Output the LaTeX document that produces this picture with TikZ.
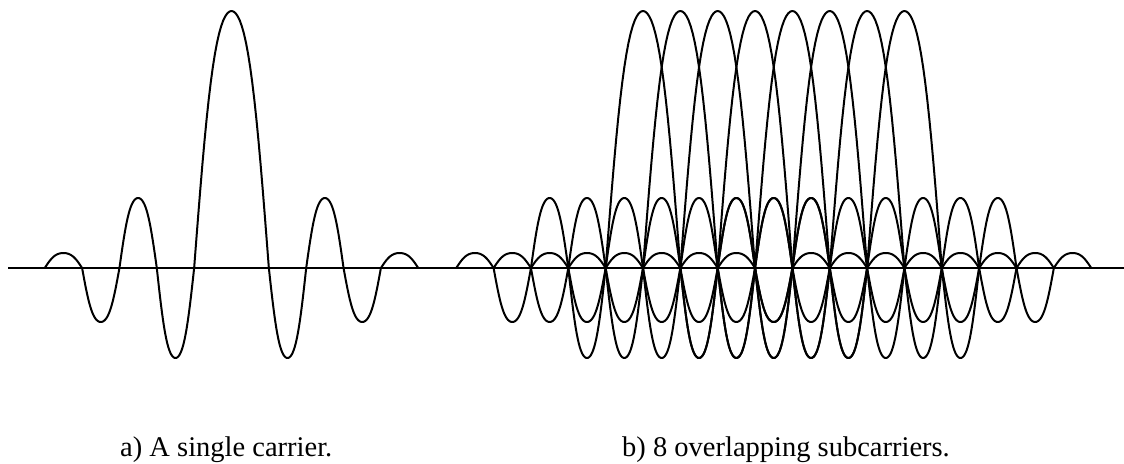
\documentclass[tikz,border=0pt]{standalone}
\usepackage{fontspec}
\setmainfont{Liberation Serif}
\usetikzlibrary{positioning}
% lobes of one carrier: from/to (in spacings) / height (px)
\newcommand{\lobes}{-5/-4/15,-4/-3/-54,-3/-2/70,-2/-1/-90,-1/1/257,1/2/-90,2/3/70,3/4/-54,4/5/15}
\newcommand{\spc}{37.35}
\newcommand{\base}{268}

\begin{document}
\begin{tikzpicture}[x=1pt,y=-1pt,
  wave/.style={line width=2pt,line join=round,line cap=round},
  axis/.style={line width=1.5pt},
  lbl/.style={font=\fontsize{28.5}{30}\selectfont,anchor=base west,inner sep=0pt}]
\useasboundingbox (0,0) rectangle (1124,463);
\coordinate (axl) at (8,\base); \coordinate (axr) at (1124,\base);
\draw[axis] (axl) -- (axr);
% a) single carrier
\foreach \c in {231.5}
  \foreach \a/\b/\h in \lobes
    \draw[wave] plot[domain=0:180,samples=37]
      ({\c+\spc*(\a+(\b-\a)*\x/180)},{\base-\h*(sin(\x)+0.05*sin(3*\x))/0.95});
% b) 8 subcarriers
\foreach \n [evaluate=\n as \c using 643+\n*\spc] in {0,...,7}
  \foreach \a/\b/\h in \lobes
    \draw[wave] plot[domain=0:180,samples=37]
      ({\c+\spc*(\a+(\b-\a)*\x/180)},{\base-\h*(sin(\x)+0.05*sin(3*\x))/0.95});
\node[lbl] (capa) at (120,456) {a) A single carrier.};
\node[lbl] (capb) at (622,456) {b) 8 overlapping subcarriers.};
\end{tikzpicture}
\end{document}
